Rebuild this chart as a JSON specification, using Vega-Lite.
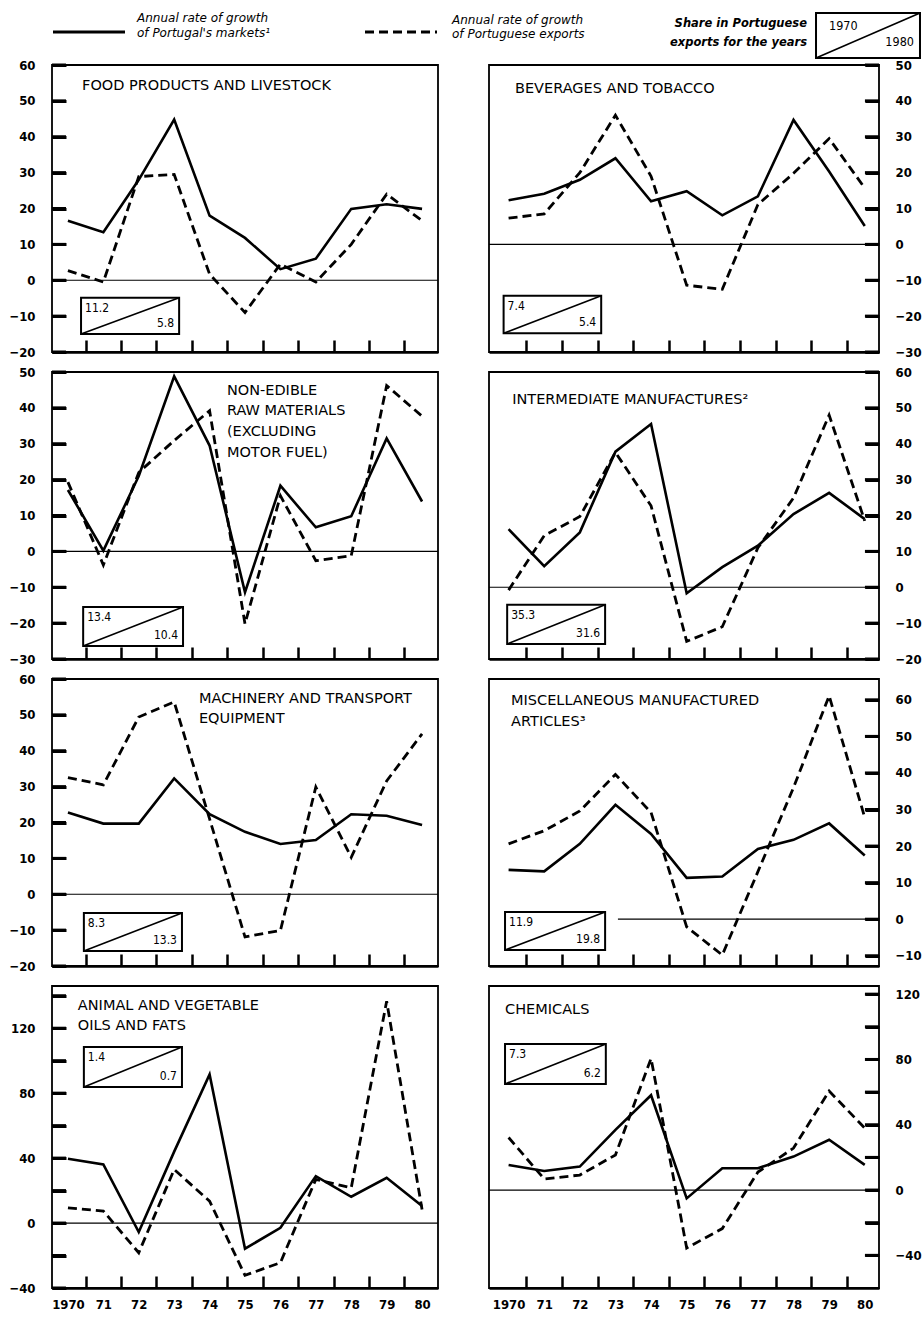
{
  "$schema": "https://vega.github.io/schema/vega-lite/v6.json",
  "background": "white",
  "padding": {"left": 8, "top": 0, "right": 0, "bottom": 5},
  "bounds": "flush",
  "align": "each",
  "columns": 2,
  "spacing": {"row": 20, "column": 51},
  "datasets": {
    "growth": [
      {"panel": "Food", "year": 1970, "markets": 16.6, "exports": 2.7},
      {"panel": "Food", "year": 1971, "markets": 13.4, "exports": -0.5},
      {"panel": "Food", "year": 1972, "markets": 28, "exports": 28.9},
      {"panel": "Food", "year": 1973, "markets": 44.8, "exports": 29.5},
      {"panel": "Food", "year": 1974, "markets": 18, "exports": 1.7},
      {"panel": "Food", "year": 1975, "markets": 11.8, "exports": -9},
      {"panel": "Food", "year": 1976, "markets": 3.1, "exports": 4.5},
      {"panel": "Food", "year": 1977, "markets": 6, "exports": -0.5},
      {"panel": "Food", "year": 1978, "markets": 19.9, "exports": 10},
      {"panel": "Food", "year": 1979, "markets": 21.2, "exports": 24},
      {"panel": "Food", "year": 1980, "markets": 19.9, "exports": 16.6},
      {"panel": "Beverages", "year": 1970, "markets": 12.3, "exports": 7.3},
      {"panel": "Beverages", "year": 1971, "markets": 14.1, "exports": 8.5},
      {"panel": "Beverages", "year": 1972, "markets": 18, "exports": 20},
      {"panel": "Beverages", "year": 1973, "markets": 24, "exports": 36},
      {"panel": "Beverages", "year": 1974, "markets": 12, "exports": 19},
      {"panel": "Beverages", "year": 1975, "markets": 14.8, "exports": -11.4},
      {"panel": "Beverages", "year": 1976, "markets": 8.1, "exports": -12.5},
      {"panel": "Beverages", "year": 1977, "markets": 13.4, "exports": 11.1},
      {"panel": "Beverages", "year": 1978, "markets": 34.7, "exports": 19.8},
      {"panel": "Beverages", "year": 1979, "markets": 20.3, "exports": 29.5},
      {"panel": "Beverages", "year": 1980, "markets": 5.1, "exports": 15.7},
      {"panel": "NonEdible", "year": 1970, "markets": 17.1, "exports": 19.3},
      {"panel": "NonEdible", "year": 1971, "markets": 0.2, "exports": -3.8},
      {"panel": "NonEdible", "year": 1972, "markets": 21, "exports": 22},
      {"panel": "NonEdible", "year": 1973, "markets": 48.8, "exports": 30.9},
      {"panel": "NonEdible", "year": 1974, "markets": 29.5, "exports": 39.2},
      {"panel": "NonEdible", "year": 1975, "markets": -11.4, "exports": -20.2},
      {"panel": "NonEdible", "year": 1976, "markets": 18.3, "exports": 15.5},
      {"panel": "NonEdible", "year": 1977, "markets": 6.7, "exports": -2.6},
      {"panel": "NonEdible", "year": 1978, "markets": 9.8, "exports": -1.2},
      {"panel": "NonEdible", "year": 1979, "markets": 31.5, "exports": 46.2},
      {"panel": "NonEdible", "year": 1980, "markets": 13.9, "exports": 37.7},
      {"panel": "Intermediate", "year": 1970, "markets": 16.2, "exports": -0.8},
      {"panel": "Intermediate", "year": 1971, "markets": 5.9, "exports": 14.4},
      {"panel": "Intermediate", "year": 1972, "markets": 15.3, "exports": 19.7},
      {"panel": "Intermediate", "year": 1973, "markets": 37.8, "exports": 37.6},
      {"panel": "Intermediate", "year": 1974, "markets": 45.5, "exports": 22.7},
      {"panel": "Intermediate", "year": 1975, "markets": -1.7, "exports": -15.1},
      {"panel": "Intermediate", "year": 1976, "markets": 5.6, "exports": -11},
      {"panel": "Intermediate", "year": 1977, "markets": 11.6, "exports": 11},
      {"panel": "Intermediate", "year": 1978, "markets": 20.4, "exports": 24.9},
      {"panel": "Intermediate", "year": 1979, "markets": 26.3, "exports": 48},
      {"panel": "Intermediate", "year": 1980, "markets": 19, "exports": 18.5},
      {"panel": "Machinery", "year": 1970, "markets": 22.8, "exports": 32.5},
      {"panel": "Machinery", "year": 1971, "markets": 19.7, "exports": 30.5},
      {"panel": "Machinery", "year": 1972, "markets": 19.7, "exports": 49.4},
      {"panel": "Machinery", "year": 1973, "markets": 32.3, "exports": 53.6},
      {"panel": "Machinery", "year": 1974, "markets": 22.3, "exports": 21},
      {"panel": "Machinery", "year": 1975, "markets": 17.4, "exports": -11.9},
      {"panel": "Machinery", "year": 1976, "markets": 14, "exports": -10.1},
      {"panel": "Machinery", "year": 1977, "markets": 15.1, "exports": 29.9},
      {"panel": "Machinery", "year": 1978, "markets": 22.3, "exports": 10.3},
      {"panel": "Machinery", "year": 1979, "markets": 21.9, "exports": 31.6},
      {"panel": "Machinery", "year": 1980, "markets": 19.3, "exports": 44.7},
      {"panel": "Misc", "year": 1970, "markets": 13.5, "exports": 20.6},
      {"panel": "Misc", "year": 1971, "markets": 13.1, "exports": 24.2},
      {"panel": "Misc", "year": 1972, "markets": 20.6, "exports": 29.6},
      {"panel": "Misc", "year": 1973, "markets": 31.3, "exports": 39.6},
      {"panel": "Misc", "year": 1974, "markets": 23.3, "exports": 29.2},
      {"panel": "Misc", "year": 1975, "markets": 11.3, "exports": -2.1},
      {"panel": "Misc", "year": 1976, "markets": 11.7, "exports": -9.8},
      {"panel": "Misc", "year": 1977, "markets": 19.2, "exports": 13},
      {"panel": "Misc", "year": 1978, "markets": 21.7, "exports": 36},
      {"panel": "Misc", "year": 1979, "markets": 26.2, "exports": 61.1},
      {"panel": "Misc", "year": 1980, "markets": 17.4, "exports": 27.8},
      {"panel": "Oils", "year": 1970, "markets": 39.6, "exports": 9.4},
      {"panel": "Oils", "year": 1971, "markets": 36.1, "exports": 7.4},
      {"panel": "Oils", "year": 1972, "markets": -5.5, "exports": -18.3},
      {"panel": "Oils", "year": 1973, "markets": 44, "exports": 33},
      {"panel": "Oils", "year": 1974, "markets": 91.5, "exports": 13.5},
      {"panel": "Oils", "year": 1975, "markets": -15.8, "exports": -32.2},
      {"panel": "Oils", "year": 1976, "markets": -2.9, "exports": -24.4},
      {"panel": "Oils", "year": 1977, "markets": 28.9, "exports": 26.9},
      {"panel": "Oils", "year": 1978, "markets": 16.2, "exports": 21.7},
      {"panel": "Oils", "year": 1979, "markets": 27.9, "exports": 136.6},
      {"panel": "Oils", "year": 1980, "markets": 10.5, "exports": 8.4},
      {"panel": "Chemicals", "year": 1970, "markets": 15.4, "exports": 32.2},
      {"panel": "Chemicals", "year": 1971, "markets": 11.7, "exports": 6.8},
      {"panel": "Chemicals", "year": 1972, "markets": 14.4, "exports": 9.2},
      {"panel": "Chemicals", "year": 1973, "markets": 36.9, "exports": 21.5},
      {"panel": "Chemicals", "year": 1974, "markets": 58.1, "exports": 80.6},
      {"panel": "Chemicals", "year": 1975, "markets": -5.1, "exports": -35.5},
      {"panel": "Chemicals", "year": 1976, "markets": 13.4, "exports": -23.6},
      {"panel": "Chemicals", "year": 1977, "markets": 13.4, "exports": 11},
      {"panel": "Chemicals", "year": 1978, "markets": 20.5, "exports": 25.7},
      {"panel": "Chemicals", "year": 1979, "markets": 30.8, "exports": 60.6},
      {"panel": "Chemicals", "year": 1980, "markets": 15.4, "exports": 38}
    ],
    "shares": [
      {"panel": "Food", "s1970": 11.2, "s1980": 5.8},
      {"panel": "Beverages", "s1970": 7.4, "s1980": 5.4},
      {"panel": "NonEdible", "s1970": 13.4, "s1980": 10.4},
      {"panel": "Intermediate", "s1970": 35.3, "s1980": 31.6},
      {"panel": "Machinery", "s1970": 8.3, "s1980": 13.3},
      {"panel": "Misc", "s1970": 11.9, "s1980": 19.8},
      {"panel": "Oils", "s1970": 1.4, "s1980": 0.7},
      {"panel": "Chemicals", "s1970": 7.3, "s1980": 6.2}
    ],
    "yticks": [
      {"panel": "Food", "v": -20}, {"panel": "Food", "v": -10}, {"panel": "Food", "v": 0}, {"panel": "Food", "v": 10}, {"panel": "Food", "v": 20}, {"panel": "Food", "v": 30}, {"panel": "Food", "v": 40}, {"panel": "Food", "v": 50}, {"panel": "Food", "v": 60},
      {"panel": "Beverages", "v": -30}, {"panel": "Beverages", "v": -20}, {"panel": "Beverages", "v": -10}, {"panel": "Beverages", "v": 0}, {"panel": "Beverages", "v": 10}, {"panel": "Beverages", "v": 20}, {"panel": "Beverages", "v": 30}, {"panel": "Beverages", "v": 40}, {"panel": "Beverages", "v": 50},
      {"panel": "NonEdible", "v": -30}, {"panel": "NonEdible", "v": -20}, {"panel": "NonEdible", "v": -10}, {"panel": "NonEdible", "v": 0}, {"panel": "NonEdible", "v": 10}, {"panel": "NonEdible", "v": 20}, {"panel": "NonEdible", "v": 30}, {"panel": "NonEdible", "v": 40}, {"panel": "NonEdible", "v": 50},
      {"panel": "Intermediate", "v": -20}, {"panel": "Intermediate", "v": -10}, {"panel": "Intermediate", "v": 0}, {"panel": "Intermediate", "v": 10}, {"panel": "Intermediate", "v": 20}, {"panel": "Intermediate", "v": 30}, {"panel": "Intermediate", "v": 40}, {"panel": "Intermediate", "v": 50}, {"panel": "Intermediate", "v": 60},
      {"panel": "Machinery", "v": -20}, {"panel": "Machinery", "v": -10}, {"panel": "Machinery", "v": 0}, {"panel": "Machinery", "v": 10}, {"panel": "Machinery", "v": 20}, {"panel": "Machinery", "v": 30}, {"panel": "Machinery", "v": 40}, {"panel": "Machinery", "v": 50}, {"panel": "Machinery", "v": 60},
      {"panel": "Misc", "v": -10}, {"panel": "Misc", "v": 0}, {"panel": "Misc", "v": 10}, {"panel": "Misc", "v": 20}, {"panel": "Misc", "v": 30}, {"panel": "Misc", "v": 40}, {"panel": "Misc", "v": 50}, {"panel": "Misc", "v": 60},
      {"panel": "Oils", "v": -40}, {"panel": "Oils", "v": -20}, {"panel": "Oils", "v": 0}, {"panel": "Oils", "v": 20}, {"panel": "Oils", "v": 40}, {"panel": "Oils", "v": 60}, {"panel": "Oils", "v": 80}, {"panel": "Oils", "v": 100}, {"panel": "Oils", "v": 120}, {"panel": "Oils", "v": 140},
      {"panel": "Chemicals", "v": -40}, {"panel": "Chemicals", "v": -20}, {"panel": "Chemicals", "v": 0}, {"panel": "Chemicals", "v": 20}, {"panel": "Chemicals", "v": 40}, {"panel": "Chemicals", "v": 60}, {"panel": "Chemicals", "v": 80}, {"panel": "Chemicals", "v": 100}, {"panel": "Chemicals", "v": 120}
    ]
  },
  "concat": [
    {
      "width": 386, "height": 45,
      "view": {"stroke": null},
      "data": {"values": [{}]},
      "layer": [
        {"mark": {"type": "rule", "color": "black", "strokeWidth": 3},
         "encoding": {"x": {"datum": 0.26, "type": "quantitative", "scale": {"domain": [0, 100], "nice": false, "zero": false}, "axis": null}, "x2": {"datum": 18.91},
                      "y": {"datum": 7.11, "type": "quantitative", "scale": {"domain": [0, 10], "reverse": true, "nice": false, "zero": false}, "axis": null}}},
        {"mark": {"type": "rule", "color": "black", "strokeWidth": 3, "strokeDash": [9, 5]},
         "encoding": {"x": {"datum": 81.09, "type": "quantitative", "axis": null}, "x2": {"datum": 99.74}, "y": {"datum": 7.11, "type": "quantitative", "axis": null}}},
        {"mark": {"type": "text", "align": "left", "baseline": "alphabetic", "font": "DejaVu Sans", "fontSize": 12, "fontStyle": "italic", "lineHeight": 15, "text": ["Annual rate of growth", "of Portugal's markets¹"]},
         "encoding": {"x": {"datum": 22.02, "type": "quantitative", "axis": null}, "y": {"datum": 4.89, "type": "quantitative", "axis": null}}},
        {"mark": {"type": "text", "align": "left", "baseline": "alphabetic", "font": "DejaVu Sans", "fontSize": 12, "fontStyle": "italic", "lineHeight": 14, "text": ["Annual rate of growth", "of Portuguese exports"]},
         "encoding": {"x": {"datum": 103.63, "type": "quantitative", "axis": null}, "y": {"datum": 5.33, "type": "quantitative", "axis": null}}}
      ]
    },
    {
      "width": 390, "height": 45,
      "view": {"stroke": null},
      "data": {"values": [{}]},
      "layer": [
        {"mark": {"type": "text", "align": "right", "baseline": "alphabetic", "font": "DejaVu Sans", "fontSize": 11.5, "fontStyle": "italic", "fontWeight": "bold", "lineHeight": 19, "text": ["Share in Portuguese", "exports for the years"]},
         "encoding": {"x": {"datum": 81.54, "type": "quantitative", "scale": {"domain": [0, 100], "nice": false, "zero": false}, "axis": null},
                      "y": {"datum": 6.0, "type": "quantitative", "scale": {"domain": [0, 10], "reverse": true, "nice": false, "zero": false}, "axis": null}}},
        {"mark": {"type": "rect", "fill": "white", "stroke": "black", "strokeWidth": 2},
         "encoding": {"x": {"datum": 83.85, "type": "quantitative", "axis": null}, "x2": {"datum": 110.51}, "y": {"datum": 2.89, "type": "quantitative", "axis": null}, "y2": {"datum": 12.89}}},
        {"mark": {"type": "rule", "color": "black", "strokeWidth": 1.6},
         "encoding": {"x": {"datum": 83.85, "type": "quantitative", "axis": null}, "x2": {"datum": 110.51}, "y": {"datum": 12.89, "type": "quantitative", "axis": null}, "y2": {"datum": 2.89}}},
        {"mark": {"type": "text", "align": "left", "baseline": "alphabetic", "fontSize": 12.5, "text": "1970"},
         "encoding": {"x": {"datum": 87.18, "type": "quantitative", "axis": null}, "y": {"datum": 6.56, "type": "quantitative", "axis": null}}},
        {"mark": {"type": "text", "align": "right", "baseline": "alphabetic", "fontSize": 12.5, "text": "1980"},
         "encoding": {"x": {"datum": 108.97, "type": "quantitative", "axis": null}, "y": {"datum": 10.33, "type": "quantitative", "axis": null}}}
      ]
    },
    {
      "width": 386, "height": 287,
      "data": {"name": "shares"},
      "transform": [{"filter": "datum.panel === 'Food'"}],
      "resolve": {"axis": {"x": "independent", "y": "independent"}},
      "layer": [
        {"data": {"name": "growth"}, "transform": [{"filter": "datum.panel === 'Food'"}],
         "mark": {"type": "line", "color": "black", "strokeWidth": 2.6},
         "encoding": {
           "x": {"field": "year", "type": "quantitative", "title": null, "scale": {"domain": [1969.55, 1980.45], "nice": false, "zero": false},
                 "axis": {"orient": "bottom", "values": [1970.5, 1971.5, 1972.5, 1973.5, 1974.5, 1975.5, 1976.5, 1977.5, 1978.5, 1979.5], "labels": false, "tickSize": -12, "tickWidth": 2.5, "domain": true, "domainWidth": 2.5}},
           "y": {"field": "markets", "type": "quantitative", "title": null, "scale": {"domain": [-20, 60], "nice": false, "zero": false},
                 "axis": {"orient": "left", "values": [-20, -10, 0, 10, 20, 30, 40, 50, 60], "labels": false, "tickSize": 14, "offset": -14, "tickWidth": 3, "domain": false}}}},
        {"mark": {"type": "rule", "color": "black", "strokeWidth": 1.2}, "encoding": {"y": {"datum": 0, "type": "quantitative", "axis": null}}},
        {"data": {"name": "growth"}, "transform": [{"filter": "datum.panel === 'Food'"}],
         "mark": {"type": "line", "color": "black", "strokeWidth": 2.8, "strokeDash": [9, 5]},
         "encoding": {"x": {"field": "year", "type": "quantitative", "axis": null},
                      "y": {"field": "exports", "type": "quantitative", "title": null, "axis": {"orient": "left", "values": [-20, -10, 0, 10, 20, 30, 40, 50, 60], "ticks": false, "domain": false, "labelPadding": 17}}}},
        {"data": {"name": "yticks"}, "transform": [{"filter": "datum.panel === 'Food'"}],
         "mark": {"type": "rule", "color": "black", "strokeWidth": 3},
         "encoding": {"y": {"field": "v", "type": "quantitative", "axis": null}, "x": {"datum": 1969.55, "type": "quantitative", "axis": null}, "x2": {"datum": 1969.945}}},
        {"mark": {"type": "rect", "fill": "white", "stroke": "black", "strokeWidth": 2},
         "encoding": {"x": {"datum": 1970.37, "type": "quantitative", "axis": null}, "x2": {"datum": 1973.14}, "y": {"datum": -4.9, "type": "quantitative", "axis": null}, "y2": {"datum": -15}}},
        {"mark": {"type": "rule", "color": "black", "strokeWidth": 1.6},
         "encoding": {"x": {"datum": 1970.37, "type": "quantitative", "axis": null}, "x2": {"datum": 1973.14}, "y": {"datum": -15, "type": "quantitative", "axis": null}, "y2": {"datum": -4.9}}},
        {"mark": {"type": "text", "align": "left", "baseline": "top", "dx": 4, "dy": 5, "fontSize": 12},
         "encoding": {"x": {"datum": 1970.37, "type": "quantitative", "axis": null}, "y": {"datum": -4.9, "type": "quantitative", "axis": null}, "text": {"field": "s1970", "type": "quantitative", "format": ".1f"}}},
        {"mark": {"type": "text", "align": "right", "baseline": "bottom", "dx": -5, "dy": -4, "fontSize": 12},
         "encoding": {"x": {"datum": 1973.14, "type": "quantitative", "axis": null}, "y": {"datum": -15, "type": "quantitative", "axis": null}, "text": {"field": "s1980", "type": "quantitative", "format": ".1f"}}},
        {"mark": {"type": "text", "align": "left", "baseline": "alphabetic", "font": "DejaVu Sans", "fontSize": 14.5, "text": "FOOD PRODUCTS AND LIVESTOCK"},
         "encoding": {"x": {"datum": 1970.4, "type": "quantitative", "axis": null}, "y": {"datum": 52.9, "type": "quantitative", "axis": null}}}
      ]
    },
    {
      "width": 390, "height": 287,
      "data": {"name": "shares"},
      "transform": [{"filter": "datum.panel === 'Beverages'"}],
      "resolve": {"axis": {"x": "independent", "y": "independent"}},
      "layer": [
        {"data": {"name": "growth"}, "transform": [{"filter": "datum.panel === 'Beverages'"}],
         "mark": {"type": "line", "color": "black", "strokeWidth": 2.6},
         "encoding": {
           "x": {"field": "year", "type": "quantitative", "title": null, "scale": {"domain": [1969.45, 1980.4], "nice": false, "zero": false},
                 "axis": {"orient": "bottom", "values": [1970.5, 1971.5, 1972.5, 1973.5, 1974.5, 1975.5, 1976.5, 1977.5, 1978.5, 1979.5], "labels": false, "tickSize": -12, "tickWidth": 2.5, "domain": true, "domainWidth": 2.5}},
           "y": {"field": "markets", "type": "quantitative", "title": null, "scale": {"domain": [-30, 50], "nice": false, "zero": false},
                 "axis": {"orient": "right", "values": [-30, -20, -10, 0, 10, 20, 30, 40, 50], "labels": false, "tickSize": 14, "offset": -14, "tickWidth": 3, "domain": false}}}},
        {"mark": {"type": "rule", "color": "black", "strokeWidth": 1.2}, "encoding": {"y": {"datum": 0, "type": "quantitative", "axis": null}}},
        {"data": {"name": "growth"}, "transform": [{"filter": "datum.panel === 'Beverages'"}],
         "mark": {"type": "line", "color": "black", "strokeWidth": 2.8, "strokeDash": [9, 5]},
         "encoding": {"x": {"field": "year", "type": "quantitative", "axis": null},
                      "y": {"field": "exports", "type": "quantitative", "title": null, "axis": {"orient": "right", "values": [-30, -20, -10, 0, 10, 20, 30, 40, 50], "ticks": false, "domain": false, "labelPadding": 16}}}},
        {"data": {"name": "yticks"}, "transform": [{"filter": "datum.panel === 'Beverages'"}],
         "mark": {"type": "rule", "color": "black", "strokeWidth": 3},
         "encoding": {"y": {"field": "v", "type": "quantitative", "axis": null}, "x": {"datum": 1980.005, "type": "quantitative", "axis": null}, "x2": {"datum": 1980.4}}},
        {"mark": {"type": "rect", "fill": "white", "stroke": "black", "strokeWidth": 2},
         "encoding": {"x": {"datum": 1969.86, "type": "quantitative", "axis": null}, "x2": {"datum": 1972.6}, "y": {"datum": -14.3, "type": "quantitative", "axis": null}, "y2": {"datum": -24.8}}},
        {"mark": {"type": "rule", "color": "black", "strokeWidth": 1.6},
         "encoding": {"x": {"datum": 1969.86, "type": "quantitative", "axis": null}, "x2": {"datum": 1972.6}, "y": {"datum": -24.8, "type": "quantitative", "axis": null}, "y2": {"datum": -14.3}}},
        {"mark": {"type": "text", "align": "left", "baseline": "top", "dx": 4, "dy": 5, "fontSize": 12},
         "encoding": {"x": {"datum": 1969.86, "type": "quantitative", "axis": null}, "y": {"datum": -14.3, "type": "quantitative", "axis": null}, "text": {"field": "s1970", "type": "quantitative", "format": ".1f"}}},
        {"mark": {"type": "text", "align": "right", "baseline": "bottom", "dx": -5, "dy": -4, "fontSize": 12},
         "encoding": {"x": {"datum": 1972.6, "type": "quantitative", "axis": null}, "y": {"datum": -24.8, "type": "quantitative", "axis": null}, "text": {"field": "s1980", "type": "quantitative", "format": ".1f"}}},
        {"mark": {"type": "text", "align": "left", "baseline": "alphabetic", "font": "DejaVu Sans", "fontSize": 14.5, "text": "BEVERAGES AND TOBACCO"},
         "encoding": {"x": {"datum": 1970.18, "type": "quantitative", "axis": null}, "y": {"datum": 42.1, "type": "quantitative", "axis": null}}}
      ]
    },
    {
      "width": 386, "height": 287,
      "data": {"name": "shares"},
      "transform": [{"filter": "datum.panel === 'NonEdible'"}],
      "resolve": {"axis": {"x": "independent", "y": "independent"}},
      "layer": [
        {"data": {"name": "growth"}, "transform": [{"filter": "datum.panel === 'NonEdible'"}],
         "mark": {"type": "line", "color": "black", "strokeWidth": 2.6},
         "encoding": {
           "x": {"field": "year", "type": "quantitative", "title": null, "scale": {"domain": [1969.55, 1980.45], "nice": false, "zero": false},
                 "axis": {"orient": "bottom", "values": [1970.5, 1971.5, 1972.5, 1973.5, 1974.5, 1975.5, 1976.5, 1977.5, 1978.5, 1979.5], "labels": false, "tickSize": -12, "tickWidth": 2.5, "domain": true, "domainWidth": 2.5}},
           "y": {"field": "markets", "type": "quantitative", "title": null, "scale": {"domain": [-30, 50], "nice": false, "zero": false},
                 "axis": {"orient": "left", "values": [-30, -20, -10, 0, 10, 20, 30, 40, 50], "labels": false, "tickSize": 14, "offset": -14, "tickWidth": 3, "domain": false}}}},
        {"mark": {"type": "rule", "color": "black", "strokeWidth": 1.2}, "encoding": {"y": {"datum": 0, "type": "quantitative", "axis": null}}},
        {"data": {"name": "growth"}, "transform": [{"filter": "datum.panel === 'NonEdible'"}],
         "mark": {"type": "line", "color": "black", "strokeWidth": 2.8, "strokeDash": [9, 5]},
         "encoding": {"x": {"field": "year", "type": "quantitative", "axis": null},
                      "y": {"field": "exports", "type": "quantitative", "title": null, "axis": {"orient": "left", "values": [-30, -20, -10, 0, 10, 20, 30, 40, 50], "ticks": false, "domain": false, "labelPadding": 17}}}},
        {"data": {"name": "yticks"}, "transform": [{"filter": "datum.panel === 'NonEdible'"}],
         "mark": {"type": "rule", "color": "black", "strokeWidth": 3},
         "encoding": {"y": {"field": "v", "type": "quantitative", "axis": null}, "x": {"datum": 1969.55, "type": "quantitative", "axis": null}, "x2": {"datum": 1969.945}}},
        {"mark": {"type": "rect", "fill": "white", "stroke": "black", "strokeWidth": 2},
         "encoding": {"x": {"datum": 1970.43, "type": "quantitative", "axis": null}, "x2": {"datum": 1973.25}, "y": {"datum": -15.5, "type": "quantitative", "axis": null}, "y2": {"datum": -26.4}}},
        {"mark": {"type": "rule", "color": "black", "strokeWidth": 1.6},
         "encoding": {"x": {"datum": 1970.43, "type": "quantitative", "axis": null}, "x2": {"datum": 1973.25}, "y": {"datum": -26.4, "type": "quantitative", "axis": null}, "y2": {"datum": -15.5}}},
        {"mark": {"type": "text", "align": "left", "baseline": "top", "dx": 4, "dy": 5, "fontSize": 12},
         "encoding": {"x": {"datum": 1970.43, "type": "quantitative", "axis": null}, "y": {"datum": -15.5, "type": "quantitative", "axis": null}, "text": {"field": "s1970", "type": "quantitative", "format": ".1f"}}},
        {"mark": {"type": "text", "align": "right", "baseline": "bottom", "dx": -5, "dy": -4, "fontSize": 12},
         "encoding": {"x": {"datum": 1973.25, "type": "quantitative", "axis": null}, "y": {"datum": -26.4, "type": "quantitative", "axis": null}, "text": {"field": "s1980", "type": "quantitative", "format": ".1f"}}},
        {"mark": {"type": "text", "align": "left", "baseline": "alphabetic", "font": "DejaVu Sans", "fontSize": 14.5, "lineHeight": 20.7, "text": ["NON-EDIBLE", "RAW MATERIALS", "(EXCLUDING", "MOTOR FUEL)"]},
         "encoding": {"x": {"datum": 1974.49, "type": "quantitative", "axis": null}, "y": {"datum": 43.7, "type": "quantitative", "axis": null}}}
      ]
    },
    {
      "width": 390, "height": 287,
      "data": {"name": "shares"},
      "transform": [{"filter": "datum.panel === 'Intermediate'"}],
      "resolve": {"axis": {"x": "independent", "y": "independent"}},
      "layer": [
        {"data": {"name": "growth"}, "transform": [{"filter": "datum.panel === 'Intermediate'"}],
         "mark": {"type": "line", "color": "black", "strokeWidth": 2.6},
         "encoding": {
           "x": {"field": "year", "type": "quantitative", "title": null, "scale": {"domain": [1969.45, 1980.4], "nice": false, "zero": false},
                 "axis": {"orient": "bottom", "values": [1970.5, 1971.5, 1972.5, 1973.5, 1974.5, 1975.5, 1976.5, 1977.5, 1978.5, 1979.5], "labels": false, "tickSize": -12, "tickWidth": 2.5, "domain": true, "domainWidth": 2.5}},
           "y": {"field": "markets", "type": "quantitative", "title": null, "scale": {"domain": [-20, 60], "nice": false, "zero": false},
                 "axis": {"orient": "right", "values": [-20, -10, 0, 10, 20, 30, 40, 50, 60], "labels": false, "tickSize": 14, "offset": -14, "tickWidth": 3, "domain": false}}}},
        {"mark": {"type": "rule", "color": "black", "strokeWidth": 1.2}, "encoding": {"y": {"datum": 0, "type": "quantitative", "axis": null}}},
        {"data": {"name": "growth"}, "transform": [{"filter": "datum.panel === 'Intermediate'"}],
         "mark": {"type": "line", "color": "black", "strokeWidth": 2.8, "strokeDash": [9, 5]},
         "encoding": {"x": {"field": "year", "type": "quantitative", "axis": null},
                      "y": {"field": "exports", "type": "quantitative", "title": null, "axis": {"orient": "right", "values": [-20, -10, 0, 10, 20, 30, 40, 50, 60], "ticks": false, "domain": false, "labelPadding": 16}}}},
        {"data": {"name": "yticks"}, "transform": [{"filter": "datum.panel === 'Intermediate'"}],
         "mark": {"type": "rule", "color": "black", "strokeWidth": 3},
         "encoding": {"y": {"field": "v", "type": "quantitative", "axis": null}, "x": {"datum": 1980.005, "type": "quantitative", "axis": null}, "x2": {"datum": 1980.4}}},
        {"mark": {"type": "rect", "fill": "white", "stroke": "black", "strokeWidth": 2},
         "encoding": {"x": {"datum": 1969.96, "type": "quantitative", "axis": null}, "x2": {"datum": 1972.71}, "y": {"datum": -4.9, "type": "quantitative", "axis": null}, "y2": {"datum": -15.8}}},
        {"mark": {"type": "rule", "color": "black", "strokeWidth": 1.6},
         "encoding": {"x": {"datum": 1969.96, "type": "quantitative", "axis": null}, "x2": {"datum": 1972.71}, "y": {"datum": -15.8, "type": "quantitative", "axis": null}, "y2": {"datum": -4.9}}},
        {"mark": {"type": "text", "align": "left", "baseline": "top", "dx": 4, "dy": 5, "fontSize": 12},
         "encoding": {"x": {"datum": 1969.96, "type": "quantitative", "axis": null}, "y": {"datum": -4.9, "type": "quantitative", "axis": null}, "text": {"field": "s1970", "type": "quantitative", "format": ".1f"}}},
        {"mark": {"type": "text", "align": "right", "baseline": "bottom", "dx": -5, "dy": -4, "fontSize": 12},
         "encoding": {"x": {"datum": 1972.71, "type": "quantitative", "axis": null}, "y": {"datum": -15.8, "type": "quantitative", "axis": null}, "text": {"field": "s1980", "type": "quantitative", "format": ".1f"}}},
        {"mark": {"type": "text", "align": "left", "baseline": "alphabetic", "font": "DejaVu Sans", "fontSize": 14.5, "text": "INTERMEDIATE MANUFACTURES²"},
         "encoding": {"x": {"datum": 1970.1, "type": "quantitative", "axis": null}, "y": {"datum": 51.2, "type": "quantitative", "axis": null}}}
      ]
    },
    {
      "width": 386, "height": 287,
      "data": {"name": "shares"},
      "transform": [{"filter": "datum.panel === 'Machinery'"}],
      "resolve": {"axis": {"x": "independent", "y": "independent"}},
      "layer": [
        {"data": {"name": "growth"}, "transform": [{"filter": "datum.panel === 'Machinery'"}],
         "mark": {"type": "line", "color": "black", "strokeWidth": 2.6},
         "encoding": {
           "x": {"field": "year", "type": "quantitative", "title": null, "scale": {"domain": [1969.55, 1980.45], "nice": false, "zero": false},
                 "axis": {"orient": "bottom", "values": [1970.5, 1971.5, 1972.5, 1973.5, 1974.5, 1975.5, 1976.5, 1977.5, 1978.5, 1979.5], "labels": false, "tickSize": -12, "tickWidth": 2.5, "domain": true, "domainWidth": 2.5}},
           "y": {"field": "markets", "type": "quantitative", "title": null, "scale": {"domain": [-20, 60], "nice": false, "zero": false},
                 "axis": {"orient": "left", "values": [-20, -10, 0, 10, 20, 30, 40, 50, 60], "labels": false, "tickSize": 14, "offset": -14, "tickWidth": 3, "domain": false}}}},
        {"mark": {"type": "rule", "color": "black", "strokeWidth": 1.2}, "encoding": {"y": {"datum": 0, "type": "quantitative", "axis": null}}},
        {"data": {"name": "growth"}, "transform": [{"filter": "datum.panel === 'Machinery'"}],
         "mark": {"type": "line", "color": "black", "strokeWidth": 2.8, "strokeDash": [9, 5]},
         "encoding": {"x": {"field": "year", "type": "quantitative", "axis": null},
                      "y": {"field": "exports", "type": "quantitative", "title": null, "axis": {"orient": "left", "values": [-20, -10, 0, 10, 20, 30, 40, 50, 60], "ticks": false, "domain": false, "labelPadding": 17}}}},
        {"data": {"name": "yticks"}, "transform": [{"filter": "datum.panel === 'Machinery'"}],
         "mark": {"type": "rule", "color": "black", "strokeWidth": 3},
         "encoding": {"y": {"field": "v", "type": "quantitative", "axis": null}, "x": {"datum": 1969.55, "type": "quantitative", "axis": null}, "x2": {"datum": 1969.945}}},
        {"mark": {"type": "rect", "fill": "white", "stroke": "black", "strokeWidth": 2},
         "encoding": {"x": {"datum": 1970.45, "type": "quantitative", "axis": null}, "x2": {"datum": 1973.22}, "y": {"datum": -5.2, "type": "quantitative", "axis": null}, "y2": {"datum": -15.8}}},
        {"mark": {"type": "rule", "color": "black", "strokeWidth": 1.6},
         "encoding": {"x": {"datum": 1970.45, "type": "quantitative", "axis": null}, "x2": {"datum": 1973.22}, "y": {"datum": -15.8, "type": "quantitative", "axis": null}, "y2": {"datum": -5.2}}},
        {"mark": {"type": "text", "align": "left", "baseline": "top", "dx": 4, "dy": 5, "fontSize": 12},
         "encoding": {"x": {"datum": 1970.45, "type": "quantitative", "axis": null}, "y": {"datum": -5.2, "type": "quantitative", "axis": null}, "text": {"field": "s1970", "type": "quantitative", "format": ".1f"}}},
        {"mark": {"type": "text", "align": "right", "baseline": "bottom", "dx": -5, "dy": -4, "fontSize": 12},
         "encoding": {"x": {"datum": 1973.22, "type": "quantitative", "axis": null}, "y": {"datum": -15.8, "type": "quantitative", "axis": null}, "text": {"field": "s1980", "type": "quantitative", "format": ".1f"}}},
        {"mark": {"type": "text", "align": "left", "baseline": "alphabetic", "font": "DejaVu Sans", "fontSize": 14.5, "lineHeight": 20, "text": ["MACHINERY AND TRANSPORT", "EQUIPMENT"]},
         "encoding": {"x": {"datum": 1973.7, "type": "quantitative", "axis": null}, "y": {"datum": 53.4, "type": "quantitative", "axis": null}}}
      ]
    },
    {
      "width": 390, "height": 287,
      "data": {"name": "shares"},
      "transform": [{"filter": "datum.panel === 'Misc'"}],
      "resolve": {"axis": {"x": "independent", "y": "independent"}},
      "layer": [
        {"data": {"name": "growth"}, "transform": [{"filter": "datum.panel === 'Misc'"}],
         "mark": {"type": "line", "color": "black", "strokeWidth": 2.6},
         "encoding": {
           "x": {"field": "year", "type": "quantitative", "title": null, "scale": {"domain": [1969.45, 1980.4], "nice": false, "zero": false},
                 "axis": {"orient": "bottom", "values": [1970.5, 1971.5, 1972.5, 1973.5, 1974.5, 1975.5, 1976.5, 1977.5, 1978.5, 1979.5], "labels": false, "tickSize": -12, "tickWidth": 2.5, "domain": true, "domainWidth": 2.5}},
           "y": {"field": "markets", "type": "quantitative", "title": null, "scale": {"domain": [-12.8, 65.7], "nice": false, "zero": false},
                 "axis": {"orient": "right", "values": [-10, 0, 10, 20, 30, 40, 50, 60], "labels": false, "tickSize": 14, "offset": -14, "tickWidth": 3, "domain": false}}}},
        {"mark": {"type": "rule", "color": "black", "strokeWidth": 1.2}, "encoding": {"x": {"datum": 1973.07, "type": "quantitative", "axis": null}, "x2": {"datum": 1980.4}, "y": {"datum": 0, "type": "quantitative", "axis": null}}},
        {"data": {"name": "growth"}, "transform": [{"filter": "datum.panel === 'Misc'"}],
         "mark": {"type": "line", "color": "black", "strokeWidth": 2.8, "strokeDash": [9, 5]},
         "encoding": {"x": {"field": "year", "type": "quantitative", "axis": null},
                      "y": {"field": "exports", "type": "quantitative", "title": null, "axis": {"orient": "right", "values": [-10, 0, 10, 20, 30, 40, 50, 60], "ticks": false, "domain": false, "labelPadding": 16}}}},
        {"data": {"name": "yticks"}, "transform": [{"filter": "datum.panel === 'Misc'"}],
         "mark": {"type": "rule", "color": "black", "strokeWidth": 3},
         "encoding": {"y": {"field": "v", "type": "quantitative", "axis": null}, "x": {"datum": 1980.005, "type": "quantitative", "axis": null}, "x2": {"datum": 1980.4}}},
        {"mark": {"type": "rect", "fill": "white", "stroke": "black", "strokeWidth": 2},
         "encoding": {"x": {"datum": 1969.9, "type": "quantitative", "axis": null}, "x2": {"datum": 1972.71}, "y": {"datum": 2.0, "type": "quantitative", "axis": null}, "y2": {"datum": -8.4}}},
        {"mark": {"type": "rule", "color": "black", "strokeWidth": 1.6},
         "encoding": {"x": {"datum": 1969.9, "type": "quantitative", "axis": null}, "x2": {"datum": 1972.71}, "y": {"datum": -8.4, "type": "quantitative", "axis": null}, "y2": {"datum": 2.0}}},
        {"mark": {"type": "text", "align": "left", "baseline": "top", "dx": 4, "dy": 5, "fontSize": 12},
         "encoding": {"x": {"datum": 1969.9, "type": "quantitative", "axis": null}, "y": {"datum": 2.0, "type": "quantitative", "axis": null}, "text": {"field": "s1970", "type": "quantitative", "format": ".1f"}}},
        {"mark": {"type": "text", "align": "right", "baseline": "bottom", "dx": -5, "dy": -4, "fontSize": 12},
         "encoding": {"x": {"datum": 1972.71, "type": "quantitative", "axis": null}, "y": {"datum": -8.4, "type": "quantitative", "axis": null}, "text": {"field": "s1980", "type": "quantitative", "format": ".1f"}}},
        {"mark": {"type": "text", "align": "left", "baseline": "alphabetic", "font": "DejaVu Sans", "fontSize": 14.5, "lineHeight": 21, "text": ["MISCELLANEOUS MANUFACTURED", "ARTICLES³"]},
         "encoding": {"x": {"datum": 1970.07, "type": "quantitative", "axis": null}, "y": {"datum": 58.5, "type": "quantitative", "axis": null}}}
      ]
    },
    {
      "width": 386, "height": 302,
      "data": {"name": "shares"},
      "transform": [{"filter": "datum.panel === 'Oils'"}],
      "resolve": {"axis": {"x": "independent", "y": "independent"}},
      "layer": [
        {"data": {"name": "growth"}, "transform": [{"filter": "datum.panel === 'Oils'"}],
         "mark": {"type": "line", "color": "black", "strokeWidth": 2.6},
         "encoding": {
           "x": {"field": "year", "type": "quantitative", "title": null, "scale": {"domain": [1969.55, 1980.45], "nice": false, "zero": false},
                 "axis": {"orient": "bottom", "values": [1970.5, 1971.5, 1972.5, 1973.5, 1974.5, 1975.5, 1976.5, 1977.5, 1978.5, 1979.5], "labels": false, "tickSize": -12, "tickWidth": 2.5, "domain": true, "domainWidth": 2.5}},
           "y": {"field": "markets", "type": "quantitative", "title": null, "scale": {"domain": [-40, 146], "nice": false, "zero": false},
                 "axis": {"orient": "left", "values": [-40, -20, 0, 20, 40, 60, 80, 100, 120, 140], "labels": false, "tickSize": 14, "offset": -14, "tickWidth": 3, "domain": false}}}},
        {"mark": {"type": "rule", "color": "black", "strokeWidth": 1.2}, "encoding": {"y": {"datum": 0, "type": "quantitative", "axis": null}}},
        {"data": {"name": "growth"}, "transform": [{"filter": "datum.panel === 'Oils'"}],
         "mark": {"type": "line", "color": "black", "strokeWidth": 2.8, "strokeDash": [9, 5]},
         "encoding": {"x": {"field": "year", "type": "quantitative", "title": null,
                            "axis": {"orient": "bottom", "values": [1970, 1971, 1972, 1973, 1974, 1975, 1976, 1977, 1978, 1979, 1980], "labelExpr": "datum.value === 1970 ? '1970' : slice(toString(datum.value), 2)", "ticks": false, "domain": false, "labelPadding": 10}},
                      "y": {"field": "exports", "type": "quantitative", "title": null, "axis": {"orient": "left", "values": [-40, 0, 40, 80, 120], "ticks": false, "domain": false, "labelPadding": 17}}}},
        {"data": {"name": "yticks"}, "transform": [{"filter": "datum.panel === 'Oils'"}],
         "mark": {"type": "rule", "color": "black", "strokeWidth": 3},
         "encoding": {"y": {"field": "v", "type": "quantitative", "axis": null}, "x": {"datum": 1969.55, "type": "quantitative", "axis": null}, "x2": {"datum": 1969.945}}},
        {"mark": {"type": "rect", "fill": "white", "stroke": "black", "strokeWidth": 2},
         "encoding": {"x": {"datum": 1970.45, "type": "quantitative", "axis": null}, "x2": {"datum": 1973.22}, "y": {"datum": 108.4, "type": "quantitative", "axis": null}, "y2": {"datum": 83.8}}},
        {"mark": {"type": "rule", "color": "black", "strokeWidth": 1.6},
         "encoding": {"x": {"datum": 1970.45, "type": "quantitative", "axis": null}, "x2": {"datum": 1973.22}, "y": {"datum": 83.8, "type": "quantitative", "axis": null}, "y2": {"datum": 108.4}}},
        {"mark": {"type": "text", "align": "left", "baseline": "top", "dx": 4, "dy": 5, "fontSize": 12},
         "encoding": {"x": {"datum": 1970.45, "type": "quantitative", "axis": null}, "y": {"datum": 108.4, "type": "quantitative", "axis": null}, "text": {"field": "s1970", "type": "quantitative", "format": ".1f"}}},
        {"mark": {"type": "text", "align": "right", "baseline": "bottom", "dx": -5, "dy": -4, "fontSize": 12},
         "encoding": {"x": {"datum": 1973.22, "type": "quantitative", "axis": null}, "y": {"datum": 83.8, "type": "quantitative", "axis": null}, "text": {"field": "s1980", "type": "quantitative", "format": ".1f"}}},
        {"mark": {"type": "text", "align": "left", "baseline": "alphabetic", "font": "DejaVu Sans", "fontSize": 14.5, "lineHeight": 20, "text": ["ANIMAL AND VEGETABLE", "OILS AND FATS"]},
         "encoding": {"x": {"datum": 1970.28, "type": "quantitative", "axis": null}, "y": {"datum": 131.5, "type": "quantitative", "axis": null}}}
      ]
    },
    {
      "width": 390, "height": 302,
      "data": {"name": "shares"},
      "transform": [{"filter": "datum.panel === 'Chemicals'"}],
      "resolve": {"axis": {"x": "independent", "y": "independent"}},
      "layer": [
        {"data": {"name": "growth"}, "transform": [{"filter": "datum.panel === 'Chemicals'"}],
         "mark": {"type": "line", "color": "black", "strokeWidth": 2.6},
         "encoding": {
           "x": {"field": "year", "type": "quantitative", "title": null, "scale": {"domain": [1969.45, 1980.4], "nice": false, "zero": false},
                 "axis": {"orient": "bottom", "values": [1970.5, 1971.5, 1972.5, 1973.5, 1974.5, 1975.5, 1976.5, 1977.5, 1978.5, 1979.5], "labels": false, "tickSize": -12, "tickWidth": 2.5, "domain": true, "domainWidth": 2.5}},
           "y": {"field": "markets", "type": "quantitative", "title": null, "scale": {"domain": [-60, 125], "nice": false, "zero": false},
                 "axis": {"orient": "right", "values": [-40, -20, 0, 20, 40, 60, 80, 100, 120], "labels": false, "tickSize": 14, "offset": -14, "tickWidth": 3, "domain": false}}}},
        {"mark": {"type": "rule", "color": "black", "strokeWidth": 1.2}, "encoding": {"y": {"datum": 0, "type": "quantitative", "axis": null}}},
        {"data": {"name": "growth"}, "transform": [{"filter": "datum.panel === 'Chemicals'"}],
         "mark": {"type": "line", "color": "black", "strokeWidth": 2.8, "strokeDash": [9, 5]},
         "encoding": {"x": {"field": "year", "type": "quantitative", "title": null,
                            "axis": {"orient": "bottom", "values": [1970, 1971, 1972, 1973, 1974, 1975, 1976, 1977, 1978, 1979, 1980], "labelExpr": "datum.value === 1970 ? '1970' : slice(toString(datum.value), 2)", "ticks": false, "domain": false, "labelPadding": 10}},
                      "y": {"field": "exports", "type": "quantitative", "title": null, "axis": {"orient": "right", "values": [-40, 0, 40, 80, 120], "ticks": false, "domain": false, "labelPadding": 16}}}},
        {"data": {"name": "yticks"}, "transform": [{"filter": "datum.panel === 'Chemicals'"}],
         "mark": {"type": "rule", "color": "black", "strokeWidth": 3},
         "encoding": {"y": {"field": "v", "type": "quantitative", "axis": null}, "x": {"datum": 1980.005, "type": "quantitative", "axis": null}, "x2": {"datum": 1980.4}}},
        {"mark": {"type": "rect", "fill": "white", "stroke": "black", "strokeWidth": 2},
         "encoding": {"x": {"datum": 1969.9, "type": "quantitative", "axis": null}, "x2": {"datum": 1972.73}, "y": {"datum": 89.5, "type": "quantitative", "axis": null}, "y2": {"datum": 65}}},
        {"mark": {"type": "rule", "color": "black", "strokeWidth": 1.6},
         "encoding": {"x": {"datum": 1969.9, "type": "quantitative", "axis": null}, "x2": {"datum": 1972.73}, "y": {"datum": 65, "type": "quantitative", "axis": null}, "y2": {"datum": 89.5}}},
        {"mark": {"type": "text", "align": "left", "baseline": "top", "dx": 4, "dy": 5, "fontSize": 12},
         "encoding": {"x": {"datum": 1969.9, "type": "quantitative", "axis": null}, "y": {"datum": 89.5, "type": "quantitative", "axis": null}, "text": {"field": "s1970", "type": "quantitative", "format": ".1f"}}},
        {"mark": {"type": "text", "align": "right", "baseline": "bottom", "dx": -5, "dy": -4, "fontSize": 12},
         "encoding": {"x": {"datum": 1972.73, "type": "quantitative", "axis": null}, "y": {"datum": 65, "type": "quantitative", "axis": null}, "text": {"field": "s1980", "type": "quantitative", "format": ".1f"}}},
        {"mark": {"type": "text", "align": "left", "baseline": "alphabetic", "font": "DejaVu Sans", "fontSize": 14.5, "text": "CHEMICALS"},
         "encoding": {"x": {"datum": 1969.9, "type": "quantitative", "axis": null}, "y": {"datum": 108.1, "type": "quantitative", "axis": null}}}
      ]
    }
  ],
  "config": {
    "view": {"stroke": "black", "strokeWidth": 1.8},
    "axis": {"grid": false, "domainColor": "black", "tickColor": "black", "labelColor": "black", "labelFont": "DejaVu Sans Condensed", "labelFontWeight": "bold", "labelFontSize": 13, "labelOverlap": false, "labelFlush": false},
    "text": {"font": "DejaVu Sans Condensed", "color": "black"}
  }
}
